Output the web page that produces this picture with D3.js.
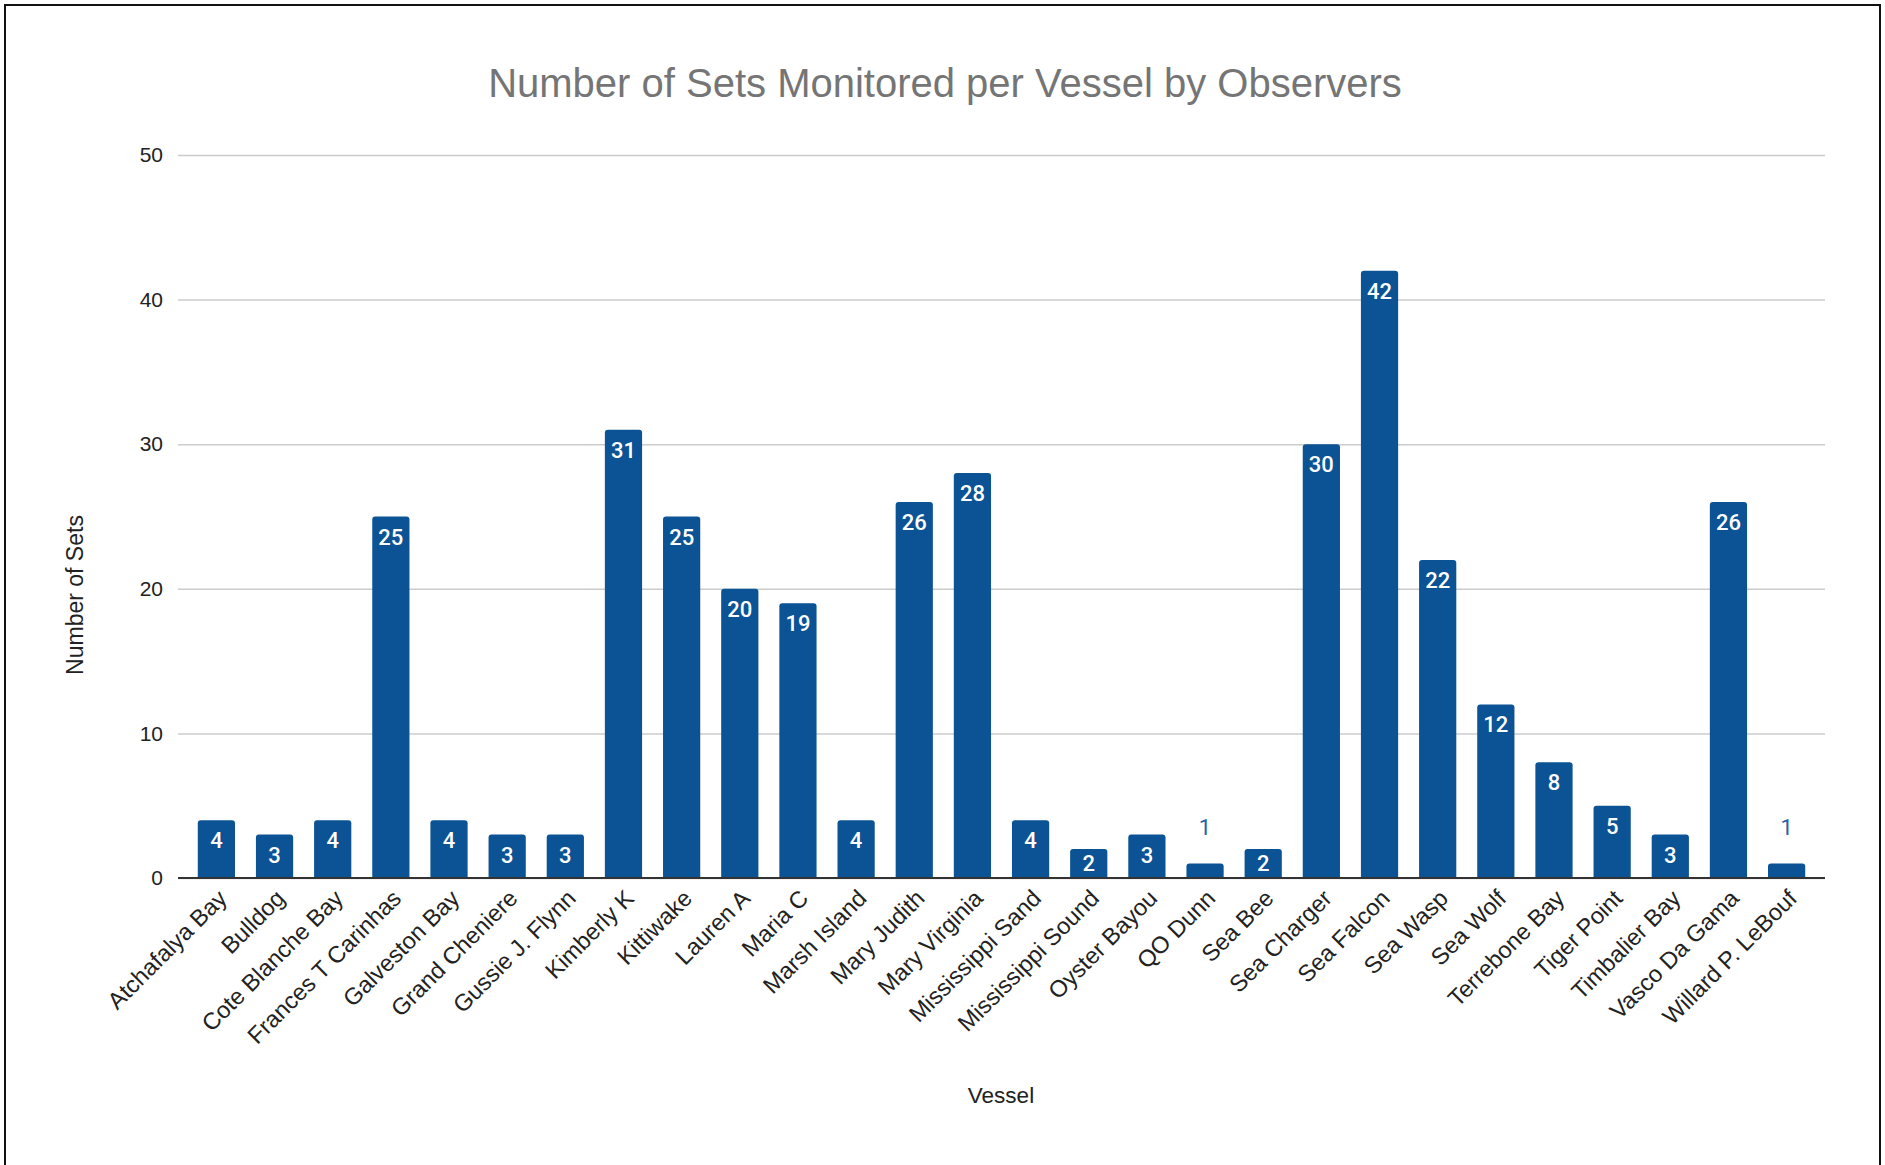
<!DOCTYPE html>
<html>
<head>
<meta charset="utf-8">
<script src="https://d3js.org/d3.v7.min.js"></script>
<style>
  body { margin: 0; background: #fff; }
</style>
</head>
<body>
<div class="chart"></div>
<script>
// Data
var vessels = ["Atchafalya Bay", "Bulldog", "Cote Blanche Bay", "Frances T Carinhas", "Galveston Bay",
  "Grand Cheniere", "Gussie J. Flynn", "Kimberly K", "Kittiwake", "Lauren A", "Maria C", "Marsh Island",
  "Mary Judith", "Mary Virginia", "Mississippi Sand", "Mississippi Sound", "Oyster Bayou", "QO Dunn",
  "Sea Bee", "Sea Charger", "Sea Falcon", "Sea Wasp", "Sea Wolf", "Terrebone Bay", "Tiger Point",
  "Timbalier Bay", "Vasco Da Gama", "Willard P. LeBouf"];
var sets = [4, 3, 4, 25, 4, 3, 3, 31, 25, 20, 19, 4, 26, 28, 4, 2, 3, 1, 2, 30, 42, 22, 12, 8, 5, 3, 26, 1];
var yTicks = [0, 10, 20, 30, 40, 50];

// Set Parms
var svgWidth = 1885;
var svgHeight = 1165;
var barColor = "#0b5394";

var svg = d3.select(".chart")
  .append("svg")
  .attr("width", svgWidth)
  .attr("height", svgHeight);

svg.append("rect")
  .attr("width", svgWidth)
  .attr("height", svgHeight)
  .attr("fill", "#fff");

// frame round the picture (bottom edge runs off the page)
svg.append("rect")
  .attr("x", 5)
  .attr("y", 5)
  .attr("width", 1875)
  .attr("height", 1175)
  .attr("fill", "none")
  .attr("stroke", "#111")
  .attr("stroke-width", 2);

// scales
var x = d3.scaleBand()
  .domain(vessels)
  .range([178, 1825])
  .paddingInner(0.36)
  .paddingOuter(0.34);

var y = d3.scaleLinear()
  .domain([0, 50])
  .range([878, 155]);

// gridlines + y labels
var yAxis = d3.axisLeft(y)
  .tickValues(yTicks)
  .tickSize(-(1825 - 178))
  .tickPadding(15);

var gy = svg.append("g")
  .attr("transform", "translate(178,0)")
  .call(yAxis);
gy.select(".domain").remove();
gy.selectAll(".tick line")
  .attr("stroke", "#cccccc")
  .attr("stroke-width", 1.5);
gy.selectAll(".tick text")
  .attr("fill", "#222")
  .style("font-family", "'Liberation Sans', Arial, sans-serif")
  .style("font-size", "21px");

// bars with rounded tops
var r = 3;
svg.append("g")
  .selectAll("path")
  .data(vessels)
  .enter()
  .append("path")
    .attr("d", function(d, i) {
      var x0 = x(d), w = x.bandwidth(), top = y(sets[i]), bot = y(0);
      return "M" + x0 + "," + bot +
        "V" + (top + r) +
        "Q" + x0 + "," + top + " " + (x0 + r) + "," + top +
        "H" + (x0 + w - r) +
        "Q" + (x0 + w) + "," + top + " " + (x0 + w) + "," + (top + r) +
        "V" + bot + "Z";
    })
    .attr("fill", barColor);

// baseline
svg.append("line")
  .attr("x1", 178)
  .attr("x2", 1825)
  .attr("y1", y(0))
  .attr("y2", y(0))
  .attr("stroke", "#333")
  .attr("stroke-width", 2);

// value labels (inside the bar, or above it when the bar is too short)
svg.append("g")
  .selectAll("text")
  .data(vessels)
  .enter()
  .append("text")
    .attr("x", function(d) { return x(d) + x.bandwidth() / 2; })
    .attr("y", function(d, i) {
      var h = y(0) - y(sets[i]);
      if (h < 20) return y(sets[i]) - 36;
      return y(sets[i]) + Math.min(20.5, h / 2);
    })
    .attr("text-anchor", "middle")
    .attr("dominant-baseline", "central")
    .attr("fill", function(d, i) { return (y(0) - y(sets[i])) < 20 ? "#2563a6" : "#fff"; })
    .style("font-family", "Roboto, sans-serif")
    .style("font-weight", function(d, i) { return (y(0) - y(sets[i])) < 20 ? 400 : 500; })
    .style("font-size", "22px")
    .text(function(d, i) { return sets[i]; });

// x labels, rotated
svg.append("g")
  .selectAll("text")
  .data(vessels)
  .enter()
  .append("text")
    .attr("transform", function(d) {
      return "translate(" + (x(d) + x.bandwidth() / 2 + 6) + ",894) rotate(-45)";
    })
    .attr("text-anchor", "end")
    .attr("dy", "0.35em")
    .attr("fill", "#222")
    .style("font-family", "'Liberation Sans', Arial, sans-serif")
    .style("font-size", "23.5px")
    .text(function(d) { return d; });

// titles
svg.append("text")
  .attr("x", 945)
  .attr("y", 97)
  .attr("text-anchor", "middle")
  .attr("fill", "#757575")
  .style("font-family", "'Liberation Sans', Arial, sans-serif")
  .style("font-size", "40px")
  .text("Number of Sets Monitored per Vessel by Observers");

svg.append("text")
  .attr("x", 1001)
  .attr("y", 1103)
  .attr("text-anchor", "middle")
  .attr("fill", "#222")
  .style("font-family", "'Liberation Sans', Arial, sans-serif")
  .style("font-size", "22.5px")
  .text("Vessel");

svg.append("text")
  .attr("transform", "translate(83,595) rotate(-90)")
  .attr("text-anchor", "middle")
  .attr("fill", "#222")
  .style("font-family", "'Liberation Sans', Arial, sans-serif")
  .style("font-size", "23px")
  .text("Number of Sets");
</script>
</body>
</html>
